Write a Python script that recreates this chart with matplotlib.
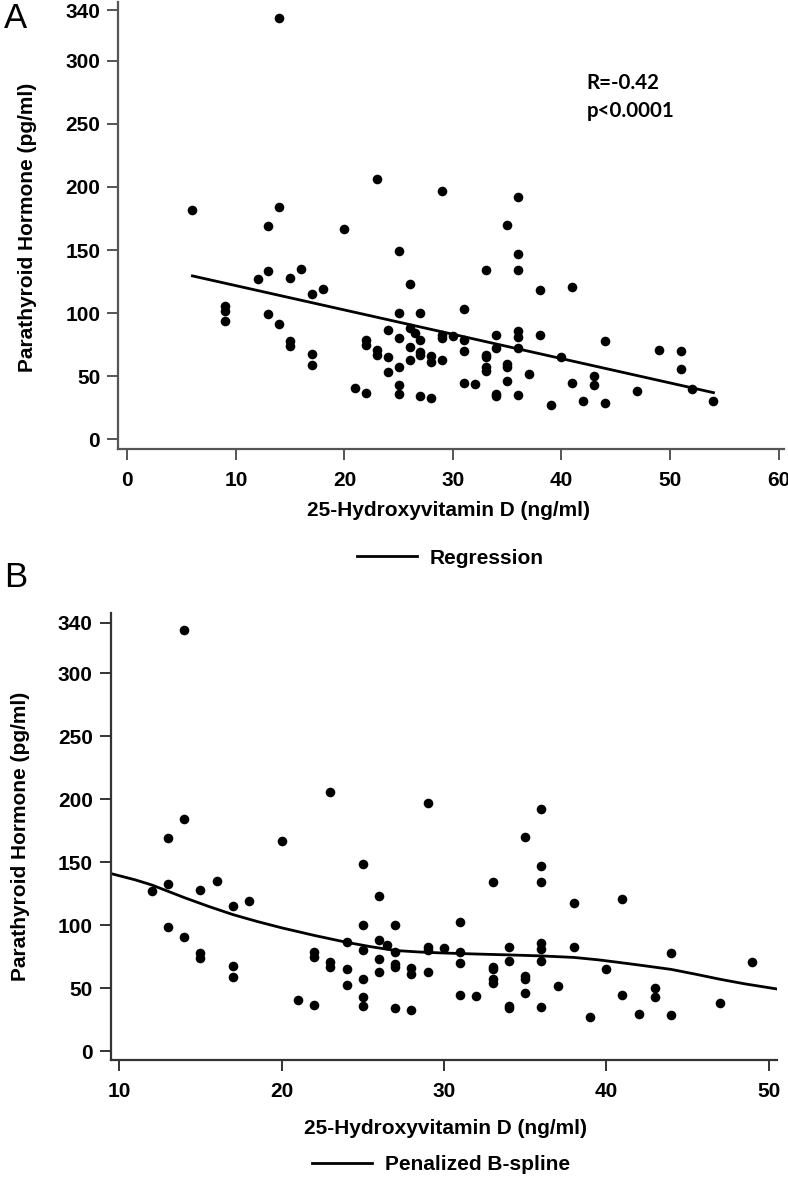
import matplotlib
matplotlib.use("Agg")
import matplotlib.pyplot as plt
from matplotlib.lines import Line2D

# 25-OH vitamin D (ng/ml) vs PTH (pg/ml)
vit_d = [6, 9, 9, 9, 12, 13, 13, 13, 14, 14, 14, 15, 15, 15, 16, 17, 17, 17, 18, 20,
         21, 22, 22, 22, 23, 23, 23, 24, 24, 24, 25, 25, 25, 25, 25, 25,
         26, 26, 26, 26, 26.5, 27, 27, 27, 27, 27, 28, 28, 28,
         29, 29, 29, 29, 30, 31, 31, 31, 31, 32, 33, 33, 33, 33, 33,
         34, 34, 34, 34, 35, 35, 35, 35, 36, 36, 36, 36, 36, 36, 36,
         37, 38, 38, 39, 40, 41, 41, 42, 43, 43, 44, 44, 47, 49, 51, 51, 52, 54]
pth = [182, 106, 102, 94, 127, 169, 133, 99, 334, 184, 91, 128, 78, 74, 135, 115, 68, 59, 119, 167,
       41, 79, 75, 37, 206, 71, 67, 87, 65, 53, 149, 100, 80, 57, 43, 36,
       123, 88, 73, 63, 84, 100, 79, 69, 67, 34, 66, 61, 33,
       197, 83, 80, 63, 82, 103, 79, 70, 45, 44, 134, 67, 65, 57, 54,
       83, 72, 36, 34, 170, 60, 57, 46, 192, 147, 134, 86, 81, 72, 35,
       52, 118, 83, 27, 65, 121, 45, 30, 50, 43, 78, 29, 38, 71, 70, 56, 40, 30]

# regression line ends (panel A)
reg_x = [6, 54]
reg_y = [129.5, 37]

# penalized B-spline curve
spl_x = [9.5, 11, 12, 13, 14, 15.5, 17, 18.5, 20, 22, 24, 25.5, 27, 28.5, 30, 32, 34, 36,
         38, 39.5, 40.5, 42, 44, 45.5, 47, 48.5, 50.5]
spl_y = [141, 136, 132, 127, 122, 115, 108.5, 103, 98, 92, 86.5, 83, 80, 78.8, 78, 77.2, 76.5, 75.7,
         74.5, 72.6, 71, 68.5, 65, 61.2, 57.2, 53.6, 49.5]

yticks = [0, 50, 100, 150, 200, 250, 300, 340]

W, H = 788, 1184
fig = plt.figure(figsize=(W / 100, H / 100), dpi=100)
plt.rcParams["font.family"] = ["Liberation Sans", "DejaVu Sans"]
FS = 15

def style(ax, col):
    for s in ["top", "right"]:
        ax.spines[s].set_visible(False)
    for s in ["left", "bottom"]:
        ax.spines[s].set_color(col)
        ax.spines[s].set_linewidth(1.6)
    ax.tick_params(length=8, width=1.4, color=col, labelsize=FS, direction="out")
    ax.tick_params(axis="y", pad=5)
    ax.tick_params(axis="x", pad=8)
    ax.set_yticks(yticks)
    for t in ax.get_xticklabels() + ax.get_yticklabels():
        t.set_fontweight("bold")

# ---- panel A
axA = fig.add_axes([118.3 / W, 1 - 448.7 / H, (784 - 118.3) / W, (448.7 - 2) / H])
axA.scatter(vit_d, pth, s=48, color="black", zorder=3, linewidths=0)
axA.plot(reg_x, reg_y, color="black", lw=2.0)
axA.set_xlim(-0.83, 60.5)
axA.set_ylim(-7.4, 346.5)
axA.set_xticks([0, 10, 20, 30, 40, 50, 60])
style(axA, "#555555")
axA.text(42.3, 282, "R=-0.42", fontsize=14.8, fontweight="bold", family=["Lato", "DejaVu Sans"], va="center")
axA.text(42.3, 260, "p<0.0001", fontsize=14.8, fontweight="bold", family=["Lato", "DejaVu Sans"], va="center")

# ---- panel B
axB = fig.add_axes([110.7 / W, 1 - 1060 / H, (776.7 - 110.7) / W, (1060 - 613.3) / H])
axB.scatter(vit_d, pth, s=48, color="black", zorder=3, linewidths=0)
axB.plot(spl_x, spl_y, color="black", lw=2.0)
axB.set_xlim(9.47, 50.5)
axB.set_ylim(-6.9, 347.6)
axB.set_xticks([10, 20, 30, 40, 50])
style(axB, "#333333")

# axis titles
fig.text(27.5 / W, 1 - 227 / H, "Parathyroid Hormone (pg/ml)", rotation=90, ha="center", va="center",
         fontsize=FS, fontweight="bold")
fig.text(20.5 / W, 1 - 836 / H, "Parathyroid Hormone (pg/ml)", rotation=90, ha="center", va="center",
         fontsize=FS, fontweight="bold")
fig.text(449 / W, 1 - 510 / H, "25-Hydroxyvitamin D (ng/ml)", ha="center", va="center",
         fontsize=FS, fontweight="bold")
fig.text(445 / W, 1 - 1128 / H, "25-Hydroxyvitamin D (ng/ml)", ha="center", va="center",
         fontsize=FS, fontweight="bold")

# legends
for lab, y, xc in [("Regression", 558, 450), ("Penalized B-spline", 1165, 441)]:
    h = Line2D([], [], color="black", lw=2.0)
    fig.legend([h], [lab], loc="center", bbox_to_anchor=(xc / W, 1 - y / H), frameon=False,
               handlelength=2.9, handletextpad=0.6, prop={"weight": "bold", "size": FS})

# panel letters
fig.text(4 / W, 1 - 18 / H, "A", fontsize=25, ha="left", va="center")
fig.text(4 / W, 1 - 577 / H, "B", fontsize=25, ha="left", va="center")

fig.savefig("out.png", dpi=100)
